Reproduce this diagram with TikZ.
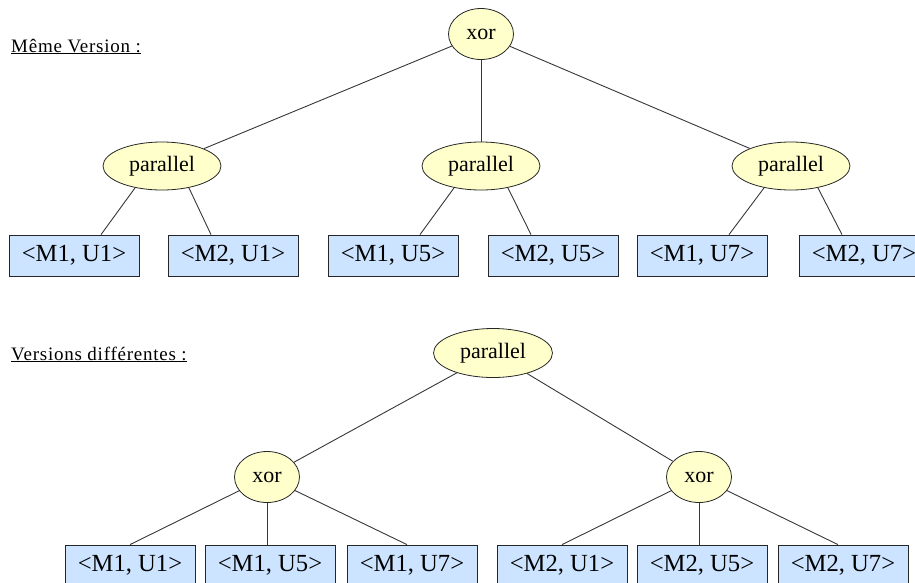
\documentclass[tikz,border=0pt]{standalone}
\usepackage{fontspec}
\setmainfont{Liberation Serif}
\usetikzlibrary{shapes.geometric,calc}
\definecolor{nodeyellow}{RGB}{255,255,204}
\definecolor{leafblue}{RGB}{204,228,255}
\definecolor{edgegray}{RGB}{55,55,55}
\tikzset{
  opnode/.style={ellipse,draw=black!85,fill=nodeyellow,line width=0.8pt,inner sep=0pt,
    minimum width=118pt,minimum height=48pt,font=\fontsize{22}{25}\selectfont},
  xornode/.style={opnode,minimum width=65pt,minimum height=51pt},
  leaf/.style={rectangle,draw=black!85,fill=leafblue,line width=0.8pt,
    minimum width=130pt,minimum height=41pt,inner sep=0pt,font=\fontsize{24.6}{28}\selectfont},
  edge/.style={draw=edgegray,line width=0.9pt},
  heading/.style={anchor=base west,font=\fontsize{19}{21}\selectfont\addfontfeature{LetterSpace=4},inner sep=0pt}
}
\begin{document}
\begin{tikzpicture}[x=1pt,y=-1pt]
\useasboundingbox (0,0) rectangle (915,582);
\clip (0,0) rectangle (915,582);
% ---------- top tree ----------
\node[heading] (h1) at (11,52) {\underline{Même Version :}};
\node[xornode] (x1) at (481,34) {xor};
\node[opnode] (p1) at (162,166) {parallel};
\node[opnode] (p2) at (481,166) {parallel};
\node[opnode] (p3) at (791,166) {parallel};
\node[leaf] (a1) at (74,255.5) {<M1, U1>};
\node[leaf] (a2) at (233,255.5) {<M2, U1>};
\node[leaf] (a3) at (393,255.5) {<M1, U5>};
\node[leaf] (a4) at (553,255.5) {<M2, U5>};
\node[leaf] (a5) at (702,255.5) {<M1, U7>};
\node[leaf] (a6) at (864,255.5) {<M2, U7>};
\draw[edge] (x1) -- (p1);
\draw[edge] (x1) -- (p2);
\draw[edge] (x1) -- (p3);
\draw[edge] (p1.219) -- ($(a1.north)+(27,0)$);
\draw[edge] (p1.321) -- ($(a2.north)+(-22,0)$);
\draw[edge] (p2.219) -- ($(a3.north)+(27,0)$);
\draw[edge] (p2.321) -- ($(a4.north)+(-22,0)$);
\draw[edge] (p3.219) -- ($(a5.north)+(27,0)$);
\draw[edge] (p3.321) -- ($(a6.north)+(-22,0)$);
% ---------- bottom tree ----------
\node[heading] (h2) at (11,360) {\underline{Versions différentes :}};
\node[opnode,minimum width=119pt,minimum height=49pt] (q) at (493,353) {parallel};
\node[xornode] (y1) at (267,477) {xor};
\node[xornode] (y2) at (699,477) {xor};
\node[leaf] (c1) at (130,565.5) {<M1, U1>};
\node[leaf] (c2) at (270,565.5) {<M1, U5>};
\node[leaf] (c3) at (412,565.5) {<M1, U7>};
\node[leaf] (c4) at (562,565.5) {<M2, U1>};
\node[leaf] (c5) at (702,565.5) {<M2, U5>};
\node[leaf] (c6) at (843,565.5) {<M2, U7>};
\draw[edge] (q) -- (y1);
\draw[edge] (q) -- (y2);
\draw[edge] (y1) -- (c1.north);
\draw[edge] (y1.south) -- (y1.south |- c2.north);
\draw[edge] (y1) -- ($(c3.north)+(-5,0)$);
\draw[edge] (y2) -- (c4.north);
\draw[edge] (y2.south) -- (y2.south |- c5.north);
\draw[edge] (y2) -- ($(c6.north)+(-5,0)$);
\end{tikzpicture}
\end{document}
